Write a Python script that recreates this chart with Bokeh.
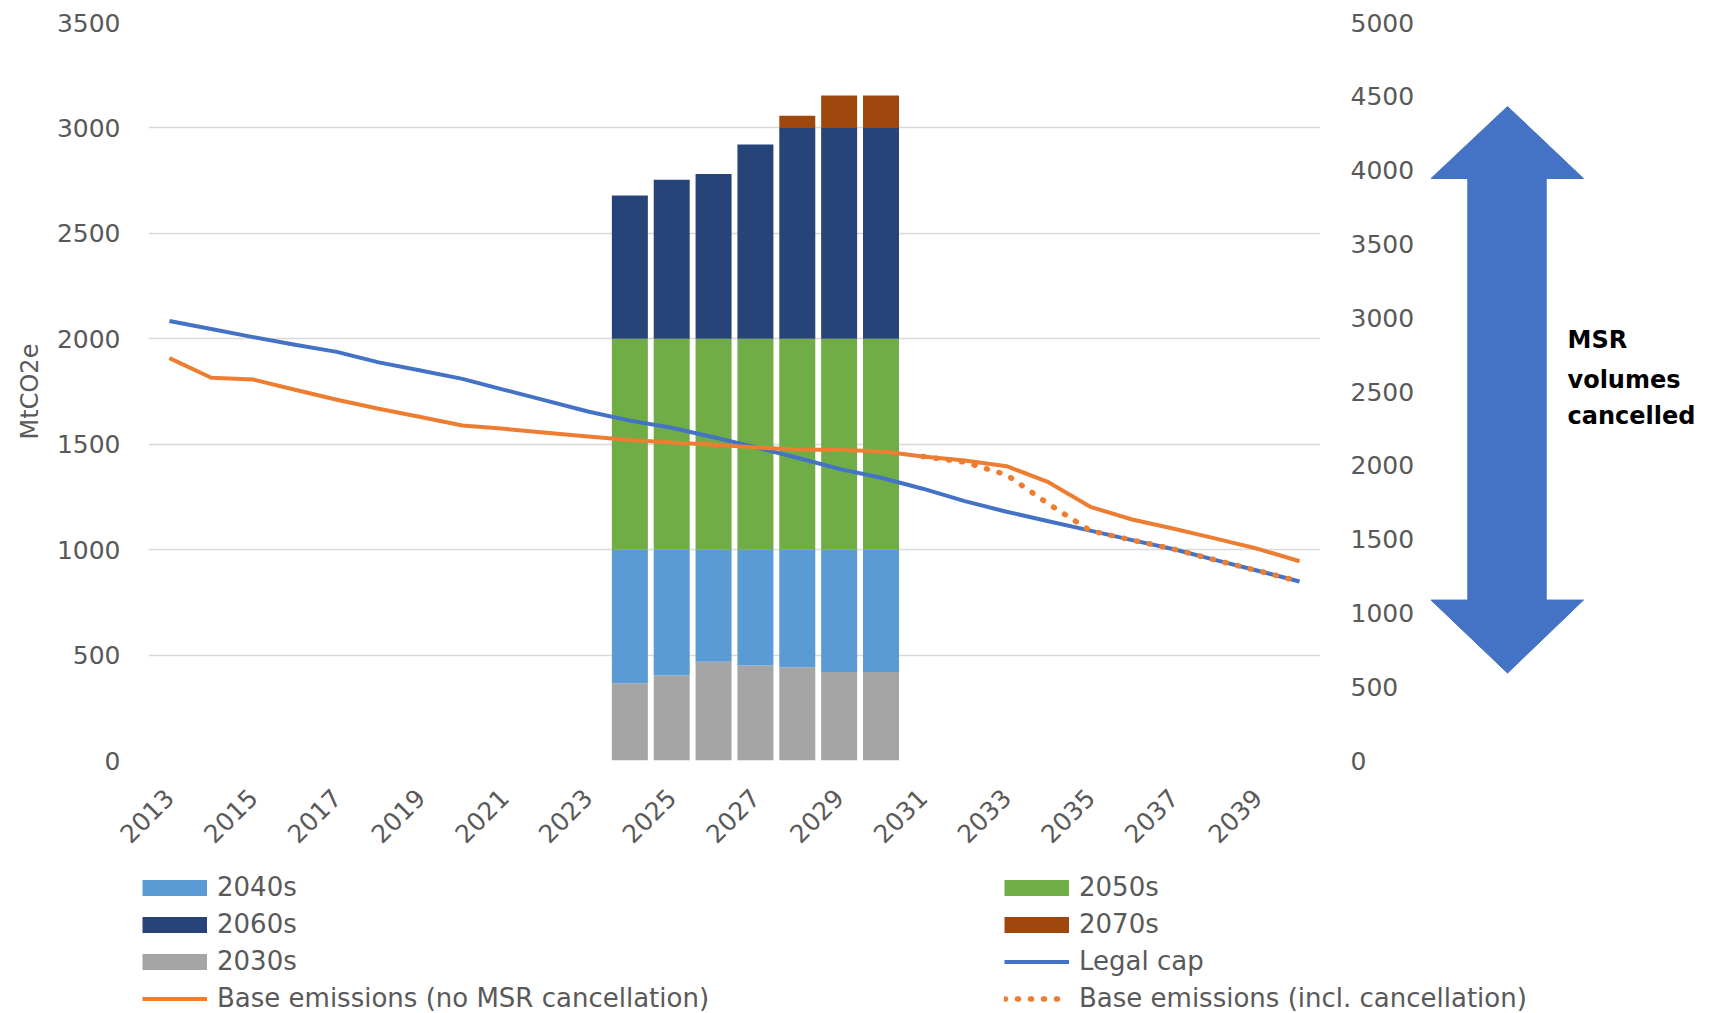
import math
from bokeh.plotting import figure
from bokeh.layouts import row, column
from bokeh.models import (Range1d, LinearAxis, FixedTicker, SingleIntervalTicker,
                          Legend, LegendItem, ColumnDataSource)
from bokeh.core.properties import value
from bokeh.embed import file_html
from bokeh.resources import INLINE

# ---------------- data ----------------
years = list(range(2013, 2041))
tick_years = list(range(2013, 2040, 2))

bar_years = [2024, 2025, 2026, 2027, 2028, 2029, 2030]
v2030s = [366, 403, 468, 451, 442, 420, 420]
v2040s = [634, 597, 532, 549, 558, 580, 580]
v2050s = [1000, 1000, 1000, 1000, 1000, 1000, 1000]
v2060s = [680, 754, 782, 921, 1000, 1000, 1000]
v2070s = [0, 0, 0, 0, 58, 154, 154]

legal_cap = [2084, 2046, 2008, 1972, 1938, 1888, 1850, 1810, 1758, 1707, 1655, 1612,
             1578, 1533, 1486, 1436, 1383, 1341, 1289, 1230, 1180, 1135, 1090, 1045,
             1002, 950, 900, 849]
base_no_msr = [1908, 1815, 1807, 1758, 1711, 1668, 1629, 1589, 1573, 1554, 1537, 1520,
               1508, 1497, 1485, 1475, 1473, 1467, 1442, 1423, 1396, 1320, 1203, 1143,
               1099, 1052, 1004, 945]
incl_years = [2031, 2032, 2033, 2034, 2035, 2036, 2037, 2038, 2039, 2040]
base_incl = [1442, 1415, 1355, 1217, 1090, 1045, 1002, 950, 900, 849]

# MSR arrow (side panel pixels across, right-axis units up) and its text
arrow_x = [77, 153, 115.7, 115.7, 153, 77, 0.5, 37.3, 37.3, 0.5]
arrow_y = [4431, 3943, 3943, 1087, 1087, 592, 1087, 1087, 3943, 3943]
msr_lines = ["MSR", "volumes", "cancelled"]
msr_y = [2846, 2581, 2331]

# ---------------- style ----------------
FONT = "DejaVu Sans"
TXT = "#595959"
C2030, C2040, C2050, C2060, C2070 = "#A5A5A5", "#5B9BD5", "#70AD47", "#264478", "#9E480E"
CCAP, CBASE = "#4472C4", "#ED7D31"
TOP, FRAME_H, BOTTOM = 22, 738, 108
MAIN_W = 148 + 1172 + 110
TOTAL_W, TOTAL_H = 1710, 1012
NAN = float("nan")

# ---------------- main chart ----------------
p = figure(frame_width=1172, frame_height=FRAME_H,
           x_range=Range1d(2012.5, 2040.5), y_range=Range1d(0, 3500),
           output_backend="svg", toolbar_location=None,
           min_border_left=148, min_border_right=110, min_border_top=TOP,
           min_border_bottom=BOTTOM)
p.outline_line_color = None
p.extra_y_ranges = {"right": Range1d(0, 5000)}
p.add_layout(LinearAxis(y_range_name="right", ticker=SingleIntervalTicker(interval=500)), "right")

for ax in p.axis:
    ax.axis_line_color = None
    ax.major_tick_line_color = None
    ax.minor_tick_line_color = None
    ax.major_tick_out = 0
    ax.major_tick_in = 0
    ax.minor_tick_out = 0
    ax.major_label_text_font = FONT
    ax.major_label_text_font_size = "25px"
    ax.major_label_text_color = TXT

left = p.yaxis[0]
left.ticker = SingleIntervalTicker(interval=500)
left.major_label_standoff = 28
left.axis_label = "MtCO2e"
left.axis_label_text_font = FONT
left.axis_label_text_font_size = "24px"
left.axis_label_text_font_style = "normal"
left.axis_label_text_color = TXT
left.axis_label_standoff = 10
p.yaxis[1].major_label_standoff = 30

p.xaxis.ticker = FixedTicker(ticks=tick_years)
p.xaxis.major_label_orientation = math.pi / 4
p.xaxis.major_label_standoff = 33

p.xgrid.visible = False
p.ygrid.ticker = SingleIntervalTicker(interval=500)
p.ygrid.grid_line_color = "#D9D9D9"
p.ygrid.grid_line_width = 1.5

src = ColumnDataSource(dict(year=bar_years, s2030=v2030s, s2040=v2040s, s2050=v2050s,
                            s2060=v2060s, s2070=v2070s))
p.vbar_stack(["s2030", "s2040", "s2050", "s2060", "s2070"], x="year", width=0.86,
             color=[C2030, C2040, C2050, C2060, C2070], line_color=None, source=src)
p.line(years, legal_cap, line_color=CCAP, line_width=4, line_join="round")
p.line(years, base_no_msr, line_color=CBASE, line_width=4, line_join="round")
p.line(incl_years, base_incl, line_color=CBASE, line_width=5.5, line_dash="1 12",
       line_cap="round")

# ---------------- side panel with MSR arrow ----------------
side = figure(frame_width=TOTAL_W - MAIN_W, frame_height=FRAME_H,
              x_range=Range1d(0, TOTAL_W - MAIN_W), y_range=Range1d(0, 5000),
              output_backend="svg", toolbar_location=None,
              x_axis_location=None, y_axis_location=None,
              min_border_left=0, min_border_right=0, min_border_top=TOP,
              min_border_bottom=BOTTOM)
side.outline_line_color = None
side.grid.visible = False
side.patch(arrow_x, arrow_y, fill_color=CCAP, line_color=CCAP, line_width=1)
side.text(x=[137] * 3, y=msr_y, text=msr_lines, text_font=value(FONT),
          text_font_size="24px", text_font_style="bold", text_color="black",
          text_baseline="middle", text_align="left")

# ---------------- legend strip (proxy renderers draw nothing: NaN data) ----------------
lg = figure(frame_width=TOTAL_W, frame_height=TOTAL_H - (TOP + FRAME_H + BOTTOM),
            x_range=Range1d(0, 1), y_range=Range1d(0, 1),
            output_backend="svg", toolbar_location=None,
            x_axis_location=None, y_axis_location=None,
            min_border_left=0, min_border_right=0, min_border_top=0, min_border_bottom=0)
lg.outline_line_color = None
lg.grid.visible = False
nan_xy = dict(x=[NAN, NAN], y=[NAN, NAN])
swatch = dict(line_width=16, line_cap="butt")
k2040 = lg.line(**nan_xy, line_color=C2040, **swatch)
k2050 = lg.line(**nan_xy, line_color=C2050, **swatch)
k2060 = lg.line(**nan_xy, line_color=C2060, **swatch)
k2070 = lg.line(**nan_xy, line_color=C2070, **swatch)
k2030 = lg.line(**nan_xy, line_color=C2030, **swatch)
kcap = lg.line(**nan_xy, line_color=CCAP, line_width=4)
kbase = lg.line(**nan_xy, line_color=CBASE, line_width=4)
kincl = lg.line(**nan_xy, line_color=CBASE, line_width=5.5, line_dash="1 12",
                line_cap="round")

common = dict(glyph_width=65, glyph_height=17, label_standoff=10, spacing=7,
              padding=0, margin=0, border_line_color=None, background_fill_alpha=0,
              label_text_font=FONT, label_text_font_size="26px", label_text_color=TXT,
              label_height=29)
leg_l = Legend(items=[LegendItem(label="2040s", renderers=[k2040]),
                      LegendItem(label="2060s", renderers=[k2060]),
                      LegendItem(label="2030s", renderers=[k2030]),
                      LegendItem(label="Base emissions (no MSR cancellation)", renderers=[kbase])],
               location=(142, -1), **common)
leg_r = Legend(items=[LegendItem(label="2050s", renderers=[k2050]),
                      LegendItem(label="2070s", renderers=[k2070]),
                      LegendItem(label="Legal cap", renderers=[kcap]),
                      LegendItem(label="Base emissions (incl. cancellation)", renderers=[kincl])],
               location=(1004, -1), **common)
lg.add_layout(leg_l)
lg.add_layout(leg_r)

layout = column(row(p, side, spacing=0), lg, spacing=0)
open("out.html", "w").write(file_html(layout, INLINE))
